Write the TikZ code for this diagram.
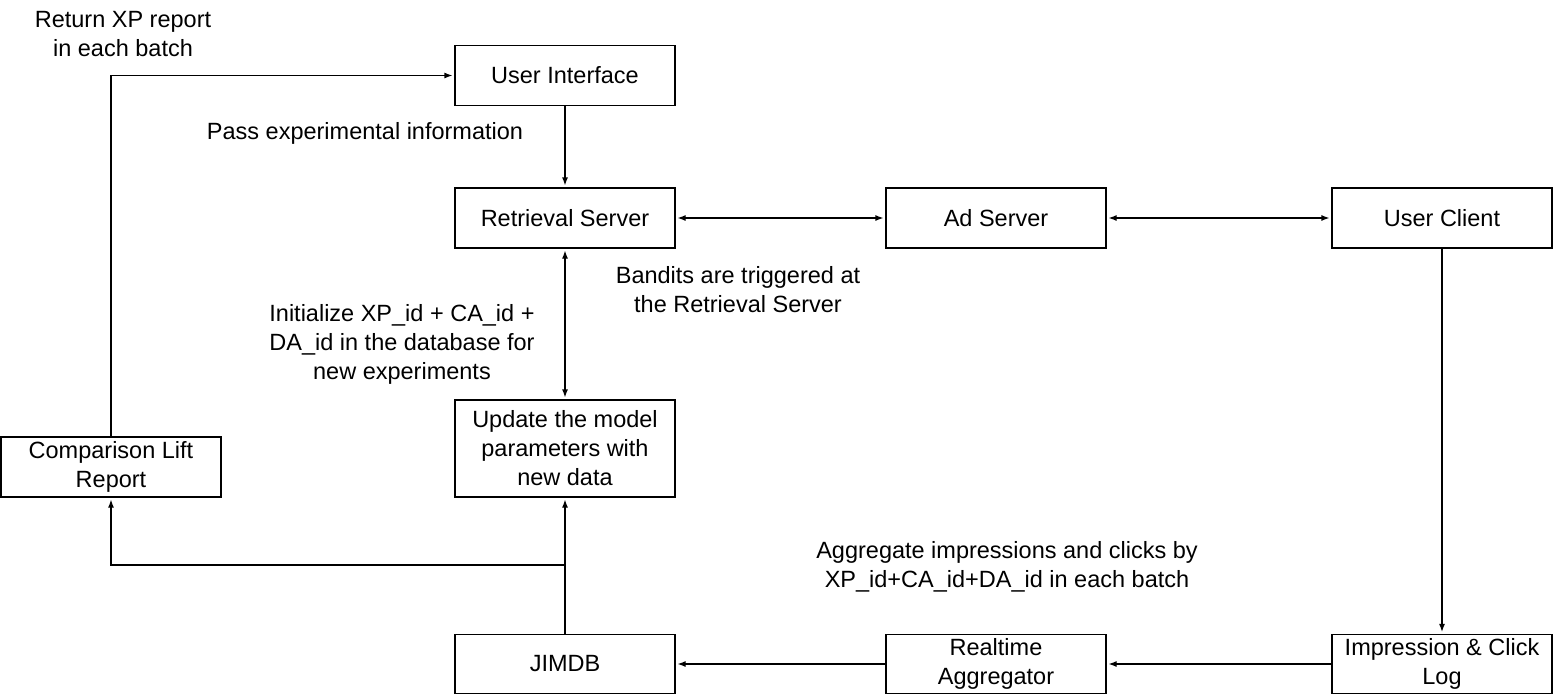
\documentclass[tikz,border=0pt]{standalone}
\usepackage{fontspec}
\setmainfont{Liberation Sans}
\usetikzlibrary{arrows.meta}
\begin{document}
\begin{tikzpicture}[x=1pt,y=-1pt,
  box/.style={draw,line width=1.2pt,minimum width=220pt,minimum height=60pt,inner sep=2pt,align=center,font=\fontsize{23.5}{29}\selectfont},
  lbl/.style={align=center,inner sep=0pt,font=\fontsize{23.5}{29}\selectfont},
  arr/.style={line width=1.2pt,-{Latex[length=8pt,width=6pt]},shorten >=2pt},
  darr/.style={line width=1.2pt,{Latex[length=8pt,width=6pt]}-{Latex[length=8pt,width=6pt]},shorten >=2pt,shorten <=2pt}]
\useasboundingbox (0,0) rectangle (1553,694);
\node[box] (ui) at (565,75.5) {User Interface};
\node[box] (rs) at (565,218) {Retrieval Server};
\node[box] (ad) at (996,218) {Ad Server};
\node[box] (uc) at (1442,218) {User Client};
\node[box,minimum height=97pt] (upd) at (565,448.5) {Update the model\\parameters with\\new data};
\node[box,minimum width=220pt] (comp) at (111,467) {Comparison Lift\\Report};
\node[box,minimum height=59pt] (jim) at (565,664) {JIMDB};
\node[box,minimum height=59pt] (ra) at (996,664) {Realtime\\Aggregator};
\node[box,minimum height=59pt] (icl) at (1442,664) {Impression \& Click\\Log};

\node[lbl] (l1) at (123,34) {Return XP report\\in each batch};
\node[lbl] (l2) at (365,133) {Pass experimental information};
\node[lbl] (l3) at (738,290) {Bandits are triggered at\\the Retrieval Server};
\node[lbl] (l4) at (402,344) {Initialize XP\_id + CA\_id +\\DA\_id in the database for\\new experiments};
\node[lbl] (l5) at (1007,567) {Aggregate impressions and clicks by\\XP\_id+CA\_id+DA\_id in each batch};

\draw[arr] (ui) -- (rs);
\draw[darr] (rs) -- (ad);
\draw[darr] (ad) -- (uc);
\draw[darr] (rs) -- (upd);
\draw[arr] (uc) -- (icl);
\draw[arr] (icl) -- (ra);
\draw[arr] (ra) -- (jim);
\draw[arr] (jim) -- (upd);
\coordinate (j) at (565,565);
\draw[arr] (j) -| (comp.south);
\draw[arr] (comp.north) |- (ui.west);
\end{tikzpicture}
\end{document}
